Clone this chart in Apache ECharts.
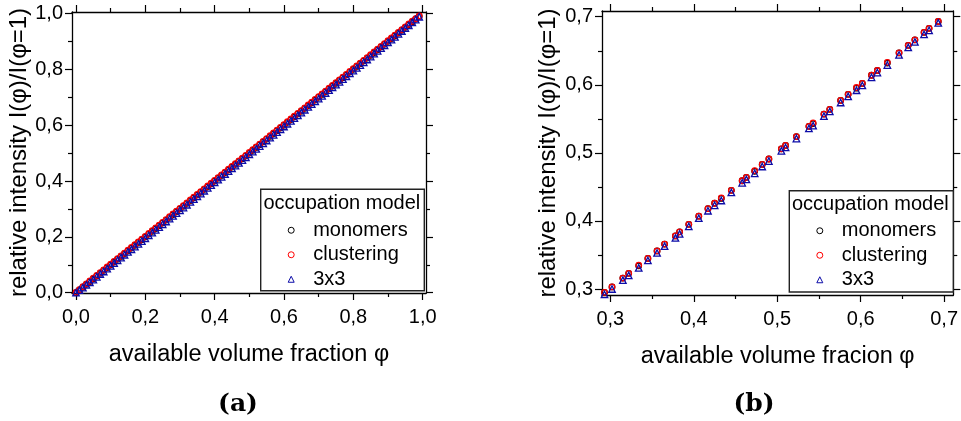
<!DOCTYPE html>
<html>
<head>
<meta charset="utf-8">
<script src="https://cdn.jsdelivr.net/npm/echarts@6/dist/echarts.min.js"></script>
<style>
  html, body { margin: 0; padding: 0; background: #fff; }
  #chart { width: 961px; height: 421px; }
</style>
</head>
<body>
<div id="chart"></div>
<script>
// ---- panel (a): full range of the available volume fraction ----
const phiA = [
  0.00,0.01,0.02,0.03,0.04,0.05,0.06,0.07,0.08,0.09,
  0.10,0.11,0.12,0.13,0.14,0.15,0.16,0.17,0.18,0.19,
  0.20,0.21,0.22,0.23,0.24,0.25,0.26,0.27,0.28,0.29,
  0.30,0.31,0.32,0.33,0.34,0.35,0.36,0.37,0.38,0.39,
  0.40,0.41,0.42,0.43,0.44,0.45,0.46,0.47,0.48,0.49,
  0.50,0.51,0.52,0.53,0.54,0.55,0.56,0.57,0.58,0.59,
  0.60,0.61,0.62,0.63,0.64,0.65,0.66,0.67,0.68,0.69,
  0.70,0.71,0.72,0.73,0.74,0.75,0.76,0.77,0.78,0.79,
  0.80,0.81,0.82,0.83,0.84,0.85,0.86,0.87,0.88,0.89,
  0.90,0.91,0.92,0.93,0.94,0.95,0.96,0.97,0.98,0.99
];
const monomersA = [
  0.000,0.010,0.020,0.030,0.040,0.050,0.060,0.070,0.080,0.090,
  0.100,0.110,0.120,0.130,0.140,0.150,0.160,0.170,0.180,0.190,
  0.200,0.210,0.220,0.230,0.240,0.250,0.260,0.270,0.280,0.290,
  0.300,0.310,0.320,0.330,0.340,0.350,0.360,0.370,0.380,0.390,
  0.400,0.410,0.420,0.430,0.440,0.450,0.460,0.470,0.480,0.490,
  0.500,0.510,0.520,0.530,0.540,0.550,0.560,0.570,0.580,0.590,
  0.600,0.610,0.620,0.630,0.640,0.650,0.660,0.670,0.680,0.690,
  0.700,0.710,0.720,0.730,0.740,0.750,0.760,0.770,0.780,0.790,
  0.800,0.810,0.820,0.830,0.840,0.850,0.860,0.870,0.880,0.890,
  0.900,0.910,0.920,0.930,0.940,0.950,0.960,0.970,0.980,0.990
];
const clusteringA = [
  0.001,0.011,0.022,0.032,0.042,0.052,0.062,0.072,0.082,0.092,
  0.102,0.112,0.122,0.132,0.142,0.152,0.162,0.172,0.182,0.192,
  0.202,0.212,0.222,0.232,0.242,0.252,0.262,0.272,0.282,0.292,
  0.302,0.312,0.322,0.332,0.342,0.352,0.362,0.372,0.382,0.392,
  0.402,0.412,0.422,0.432,0.442,0.452,0.462,0.472,0.482,0.492,
  0.502,0.512,0.522,0.532,0.542,0.552,0.562,0.572,0.582,0.592,
  0.602,0.612,0.622,0.632,0.642,0.652,0.662,0.672,0.682,0.692,
  0.702,0.712,0.722,0.732,0.742,0.752,0.762,0.772,0.782,0.792,
  0.802,0.812,0.822,0.832,0.842,0.852,0.862,0.872,0.882,0.892,
  0.902,0.912,0.922,0.932,0.942,0.952,0.962,0.972,0.981,0.991
];
const cube3x3A = [
  0.000,0.009,0.018,0.028,0.037,0.047,0.057,0.067,0.076,0.086,
  0.096,0.106,0.116,0.126,0.136,0.146,0.155,0.165,0.175,0.185,
  0.195,0.205,0.215,0.225,0.235,0.245,0.255,0.265,0.275,0.285,
  0.295,0.305,0.315,0.325,0.335,0.345,0.355,0.365,0.375,0.385,
  0.395,0.405,0.415,0.425,0.435,0.445,0.455,0.465,0.475,0.485,
  0.495,0.505,0.515,0.525,0.535,0.545,0.555,0.565,0.575,0.585,
  0.595,0.605,0.615,0.625,0.635,0.645,0.655,0.665,0.675,0.685,
  0.695,0.705,0.715,0.725,0.735,0.745,0.755,0.765,0.775,0.785,
  0.795,0.805,0.815,0.825,0.835,0.845,0.856,0.866,0.876,0.886,
  0.896,0.906,0.916,0.927,0.937,0.947,0.957,0.968,0.978,0.988
];

// ---- panel (b): zoom on 0.3 .. 0.7 ----
const phiB = [
  0.293,0.302,0.315,0.322,0.334,0.345,0.356,0.365,0.378,0.383,
  0.394,0.406,0.417,0.425,0.433,0.445,0.458,0.463,0.473,0.482,
  0.490,0.505,0.510,0.523,0.538,0.543,0.556,0.563,0.576,0.585,
  0.595,0.602,0.613,0.620,0.632,0.646,0.657,0.665,0.676,0.682,
  0.693
];
const monomersB = [
  0.295,0.303,0.316,0.323,0.334,0.345,0.356,0.366,0.378,0.384,
  0.395,0.407,0.418,0.426,0.433,0.445,0.459,0.464,0.473,0.483,
  0.491,0.506,0.511,0.524,0.539,0.543,0.557,0.564,0.577,0.586,
  0.595,0.602,0.614,0.621,0.632,0.647,0.658,0.666,0.677,0.683,
  0.693
];
const clusteringB = [
  0.295,0.303,0.316,0.323,0.335,0.345,0.356,0.366,0.378,0.384,
  0.395,0.407,0.418,0.426,0.434,0.445,0.459,0.464,0.474,0.483,
  0.491,0.506,0.511,0.524,0.539,0.544,0.557,0.564,0.577,0.586,
  0.596,0.602,0.614,0.621,0.633,0.647,0.658,0.666,0.677,0.683,
  0.693
];
const cube3x3B = [
  0.292,0.300,0.313,0.320,0.331,0.342,0.353,0.363,0.375,0.381,
  0.392,0.404,0.415,0.423,0.430,0.442,0.456,0.461,0.470,0.480,
  0.488,0.503,0.508,0.521,0.536,0.540,0.554,0.561,0.574,0.583,
  0.592,0.599,0.611,0.618,0.629,0.644,0.655,0.663,0.674,0.680,
  0.691
];

// ---- tick values ----
const ticksA = [0.0, 0.2, 0.4, 0.6, 0.8, 1.0];
const minorA = [0.1, 0.3, 0.5, 0.7, 0.9];
const ticksBx = [0.3, 0.4, 0.5, 0.6, 0.7];
const minorBx = [0.35, 0.45, 0.55, 0.65];
const ticksBy = [0.3, 0.4, 0.5, 0.6, 0.7];
const minorBy = [0.35, 0.45, 0.55, 0.65];

const seriesNames = ['monomers', 'clustering', '3x3'];

const FONT = 'Liberation Sans, Arial, sans-serif';
const commaFmt = v => Number(v).toFixed(1).replace('.', ',');

// Four axes per side pair: labelled main axis, its minor ticks,
// and the mirrored major/minor ticks on the opposite edge of the frame.
function frameAxes(dim, gridIndex, min, max, majors, minors, name, nameGap) {
  const sides = dim === 'x' ? ['bottom', 'top'] : ['left', 'right'];
  const base = {
    type: 'value', gridIndex, min, max,
    splitLine: { show: false },
    axisLine: { onZero: false, show: true, lineStyle: { color: '#000', width: 1.3 } }
  };
  const majorTick = { show: true, inside: false, length: 7, customValues: majors,
                      lineStyle: { color: '#000', width: 1.2 } };
  const minorTick = { show: true, inside: false, length: 4, customValues: minors,
                      lineStyle: { color: '#000', width: 1.2 } };
  return [
    Object.assign({}, base, {
      position: sides[0],
      name, nameLocation: 'middle', nameGap,
      nameTextStyle: { fontFamily: FONT, fontSize: dim === 'x' ? 23.5 : 24, color: '#000' },
      axisTick: majorTick,
      axisLabel: { show: true, customValues: majors, formatter: commaFmt,
                   margin: dim === 'x' ? 14 : 9,
                   fontFamily: FONT, fontSize: 20, color: '#000' }
    }),
    Object.assign({}, base, { position: sides[0], axisLine: { show: false, onZero: false },
                              axisTick: minorTick, axisLabel: { show: false } }),
    Object.assign({}, base, { position: sides[1], axisTick: majorTick, axisLabel: { show: false } }),
    Object.assign({}, base, { position: sides[1], axisLine: { show: false, onZero: false },
                              axisTick: minorTick, axisLabel: { show: false } })
  ];
}

const zip = (xs, ys) => xs.map((x, i) => [x, ys[i]]);

const markerStyles = [
  { symbol: 'circle', symbolSize: 5.5, color: '#000000' },
  { symbol: 'circle', symbolSize: 5.5, color: '#ff0000' },
  { symbol: 'triangle', symbolSize: 6.5, color: '#0c0ca8' }
];

function panelSeries(axisIdx, xs, ysList) {
  return ysList.map((ys, k) => ({
    type: 'scatter',
    name: seriesNames[k],
    xAxisIndex: axisIdx, yAxisIndex: axisIdx,
    symbol: markerStyles[k].symbol,
    symbolSize: markerStyles[k].symbolSize,
    itemStyle: { color: 'transparent', borderColor: markerStyles[k].color, borderWidth: 1.3, opacity: 1 },
    emphasis: { disabled: true },
    z: 2 + k,
    data: zip(xs, ys)
  }));
}

function legendBlock(left, top) {
  return {
    orient: 'vertical', left, top,
    itemWidth: 6, itemHeight: 6, itemGap: 0,
    selectedMode: false,
    itemStyle: { borderWidth: 1 },
    data: seriesNames,
    textStyle: { fontFamily: FONT, fontSize: 20, color: '#000', lineHeight: 24.5, padding: [0, 0, 0, 14] }
  };
}

const chart = echarts.init(document.getElementById('chart'), null, { renderer: 'canvas' });

chart.setOption({
  backgroundColor: '#ffffff',
  animation: false,
  grid: [
    { left: 72, top: 12, width: 354, height: 281, containLabel: false },
    { left: 602, top: 11, width: 354, height: 284, containLabel: false }
  ],
  xAxis: [
    ...frameAxes('x', 0, -0.0115, 1.0096, ticksA, minorA, 'available volume fraction φ', 50),
    ...frameAxes('x', 1, 0.290, 0.711, ticksBx, minorBx, 'available volume fracion φ', 50)
  ],
  yAxis: [
    ...frameAxes('y', 0, -0.001, 1.005, ticksA, minorA, 'relative intensity I(φ)/I(φ=1)', 40),
    ...frameAxes('y', 1, 0.2912, 0.7084, ticksBy, minorBy, 'relative intensity I(φ)/I(φ=1)', 42)
  ],
  legend: [legendBlock(282.7, 213), legendBlock(811.3, 213.5)],
  graphic: [
    { type: 'rect', shape: { x: 260.7, y: 189.3, width: 163.6, height: 101.4 },
      style: { fill: '#fff', stroke: '#222', lineWidth: 1.4 }, z: 1 },
    { type: 'text', x: 263.5, y: 203, z: 5,
      style: { text: 'occupation model', font: '20px ' + FONT, fill: '#000',
               textAlign: 'left', textVerticalAlign: 'middle' } },
    { type: 'rect', shape: { x: 789.3, y: 190.7, width: 164, height: 101.3 },
      style: { fill: '#fff', stroke: '#222', lineWidth: 1.4 }, z: 1 },
    { type: 'text', x: 792, y: 204.5, z: 5,
      style: { text: 'occupation model', font: '20px ' + FONT, fill: '#000',
               textAlign: 'left', textVerticalAlign: 'middle' } },
    { type: 'text', x: 238, y: 404, z: 5,
      style: { text: '(a)', font: 'bold 25px "DejaVu Serif", serif', fill: '#000',
               textAlign: 'center', textVerticalAlign: 'middle' } },
    { type: 'text', x: 754, y: 404, z: 5,
      style: { text: '(b)', font: 'bold 25px "DejaVu Serif", serif', fill: '#000',
               textAlign: 'center', textVerticalAlign: 'middle' } }
  ],
  series: [
    ...panelSeries(0, phiA, [monomersA, clusteringA, cube3x3A]),
    ...panelSeries(4, phiB, [monomersB, clusteringB, cube3x3B])
  ]
});
</script>
</body>
</html>
